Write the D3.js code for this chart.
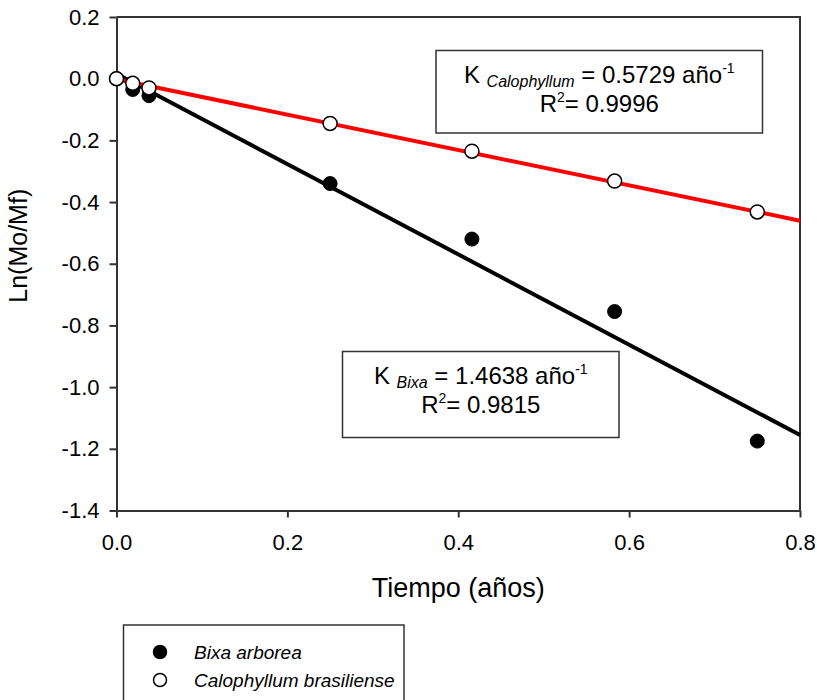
<!DOCTYPE html>
<html>
<head>
<meta charset="utf-8">
<script src="https://cdn.jsdelivr.net/npm/d3@7/dist/d3.min.js"></script>
<style>
  body { margin: 0; background: #fff; }
  svg text { font-family: "Liberation Sans", Arial, sans-serif; fill: #000; }
</style>
</head>
<body>
<div id="chart"></div>
<script>
// Data
const tiempo = [0, 0.019, 0.038, 0.25, 0.416, 0.583, 0.75];
const bixa = [0, -0.035, -0.055, -0.34, -0.52, -0.755, -1.175];
const calophyllum = [0, -0.015, -0.03, -0.145, -0.235, -0.332, -0.432];

// regression lines (slope from the figure, intercept estimated)
const bixaFit = { slope: -1.4638, intercept: 0.016 };
const caloFit = { slope: -0.5729, intercept: -0.002 };
const fitRange = [0, 0.8];

const xTicks = [0, 0.2, 0.4, 0.6, 0.8];
const xTickLabels = ["0.0", "0.2", "0.4", "0.6", "0.8"];
const yTicks = [0.2, 0, -0.2, -0.4, -0.6, -0.8, -1.0, -1.2, -1.4];
const yTickLabels = ["0.2", "0.0", "-0.2", "-0.4", "-0.6", "-0.8", "-1.0", "-1.2", "-1.4"];

const width = 817, height = 700;
const plot = { left: 116.5, right: 800, top: 17, bottom: 510.5 };

const svg = d3.select("#chart").append("svg")
  .attr("width", width)
  .attr("height", height);

const x = d3.scaleLinear().domain([0, 0.8]).range([plot.left, plot.right]);
const y = d3.scaleLinear().domain([-1.4, 0.2]).range([plot.bottom, plot.top]);

// frame (top + right)
svg.append("path")
  .attr("d", `M${plot.left},${plot.top}H${plot.right}V${plot.bottom}`)
  .attr("fill", "none")
  .attr("stroke", "#333")
  .attr("stroke-width", 2);

// axes
const xAxis = svg.append("g")
  .attr("transform", `translate(0,${plot.bottom})`)
  .call(d3.axisBottom(x)
    .tickValues(xTicks)
    .tickFormat((d, i) => xTickLabels[i])
    .tickSize(7)
    .tickSizeOuter(0)
    .tickPadding(17));

const yAxis = svg.append("g")
  .attr("transform", `translate(${plot.left},0)`)
  .call(d3.axisLeft(y)
    .tickValues(yTicks)
    .tickFormat((d, i) => yTickLabels[i])
    .tickSize(7)
    .tickSizeOuter(0)
    .tickPadding(10));

[xAxis, yAxis].forEach(g => {
  g.select(".domain").attr("stroke", "#333").attr("stroke-width", 2);
  g.selectAll(".tick line").attr("stroke", "#333").attr("stroke-width", 2);
  g.selectAll(".tick text")
    .style("font-size", "22px")
    .style("font-family", "'Liberation Sans', Arial, sans-serif")
    .attr("fill", "#000");
});

// axis titles
svg.append("text")
  .attr("x", (plot.left + plot.right) / 2)
  .attr("y", 597)
  .attr("text-anchor", "middle")
  .style("font-size", "27px")
  .text("Tiempo (años)");

svg.append("text")
  .attr("transform", `translate(27,${(plot.top + plot.bottom) / 2 - 18}) rotate(-90)`)
  .attr("text-anchor", "middle")
  .style("font-size", "25px")
  .text("Ln(Mo/Mf)");

// fit lines
const line = d3.line().x(d => x(d[0])).y(d => y(d[1]));
function fitPoints(f) {
  return fitRange.map(t => [t, f.intercept + f.slope * t]);
}

svg.append("path")
  .datum(fitPoints(bixaFit))
  .attr("fill", "none")
  .attr("stroke", "#000")
  .attr("stroke-width", 4)
  .attr("d", line);

svg.append("path")
  .datum(fitPoints(caloFit))
  .attr("fill", "none")
  .attr("stroke", "#ff0000")
  .attr("stroke-width", 4)
  .attr("d", line);

// points
svg.selectAll(".dot-bixa")
  .data(tiempo.map((t, i) => [t, bixa[i]]))
  .enter().append("circle")
  .attr("class", "dot-bixa")
  .attr("cx", d => x(d[0]))
  .attr("cy", d => y(d[1]))
  .attr("r", 7)
  .attr("fill", "#000")
  .attr("stroke", "#000")
  .attr("stroke-width", 1);

svg.selectAll(".dot-calo")
  .data(tiempo.map((t, i) => [t, calophyllum[i]]))
  .enter().append("circle")
  .attr("class", "dot-calo")
  .attr("cx", d => x(d[0]))
  .attr("cy", d => y(d[1]))
  .attr("r", 7)
  .attr("fill", "#fff")
  .attr("stroke", "#000")
  .attr("stroke-width", 1.5);

// annotation boxes
function kBox(bx, by, bw, bh, species, kVal, r2) {
  svg.append("rect")
    .attr("x", bx).attr("y", by)
    .attr("width", bw).attr("height", bh)
    .attr("fill", "#fff")
    .attr("stroke", "#333")
    .attr("stroke-width", 1.5);

  const cx = bx + bw / 2;
  const t1 = svg.append("text")
    .attr("x", cx).attr("y", by + 32)
    .attr("text-anchor", "middle")
    .style("font-size", "24px");
  t1.append("tspan").text("K ");
  t1.append("tspan").attr("dy", 4).style("font-size", "16px").style("font-style", "italic").text(species);
  t1.append("tspan").attr("dy", -4).text(" = " + kVal + " año");
  t1.append("tspan").attr("dy", -10).style("font-size", "14px").text("-1");

  const t2 = svg.append("text")
    .attr("x", cx).attr("y", by + 61)
    .attr("text-anchor", "middle")
    .style("font-size", "24px");
  t2.append("tspan").text("R");
  t2.append("tspan").attr("dy", -10).style("font-size", "14px").text("2");
  t2.append("tspan").attr("dy", 10).text("= " + r2);
}

kBox(436, 50.5, 326.5, 82.5, "Calophyllum", "0.5729", "0.9996");
kBox(342.5, 351.5, 276.5, 86, "Bixa", "1.4638", "0.9815");

// legend
const legendItems = ["Bixa arborea", "Calophyllum brasiliense"];
const legendFill = ["#000", "#fff"];

svg.append("rect")
  .attr("x", 123.5).attr("y", 625)
  .attr("width", 280.5).attr("height", 90)
  .attr("fill", "#fff")
  .attr("stroke", "#333")
  .attr("stroke-width", 1.5);

const lg = svg.selectAll(".leg")
  .data(legendItems)
  .enter().append("g")
  .attr("class", "leg")
  .attr("transform", (d, i) => `translate(160,${652 + i * 28})`);

lg.append("circle")
  .attr("r", 6.5)
  .attr("fill", (d, i) => legendFill[i])
  .attr("stroke", "#000")
  .attr("stroke-width", 1.5);

lg.append("text")
  .attr("x", 34)
  .attr("y", 7)
  .style("font-size", "19px")
  .style("font-style", "italic")
  .text(d => d);
</script>
</body>
</html>
